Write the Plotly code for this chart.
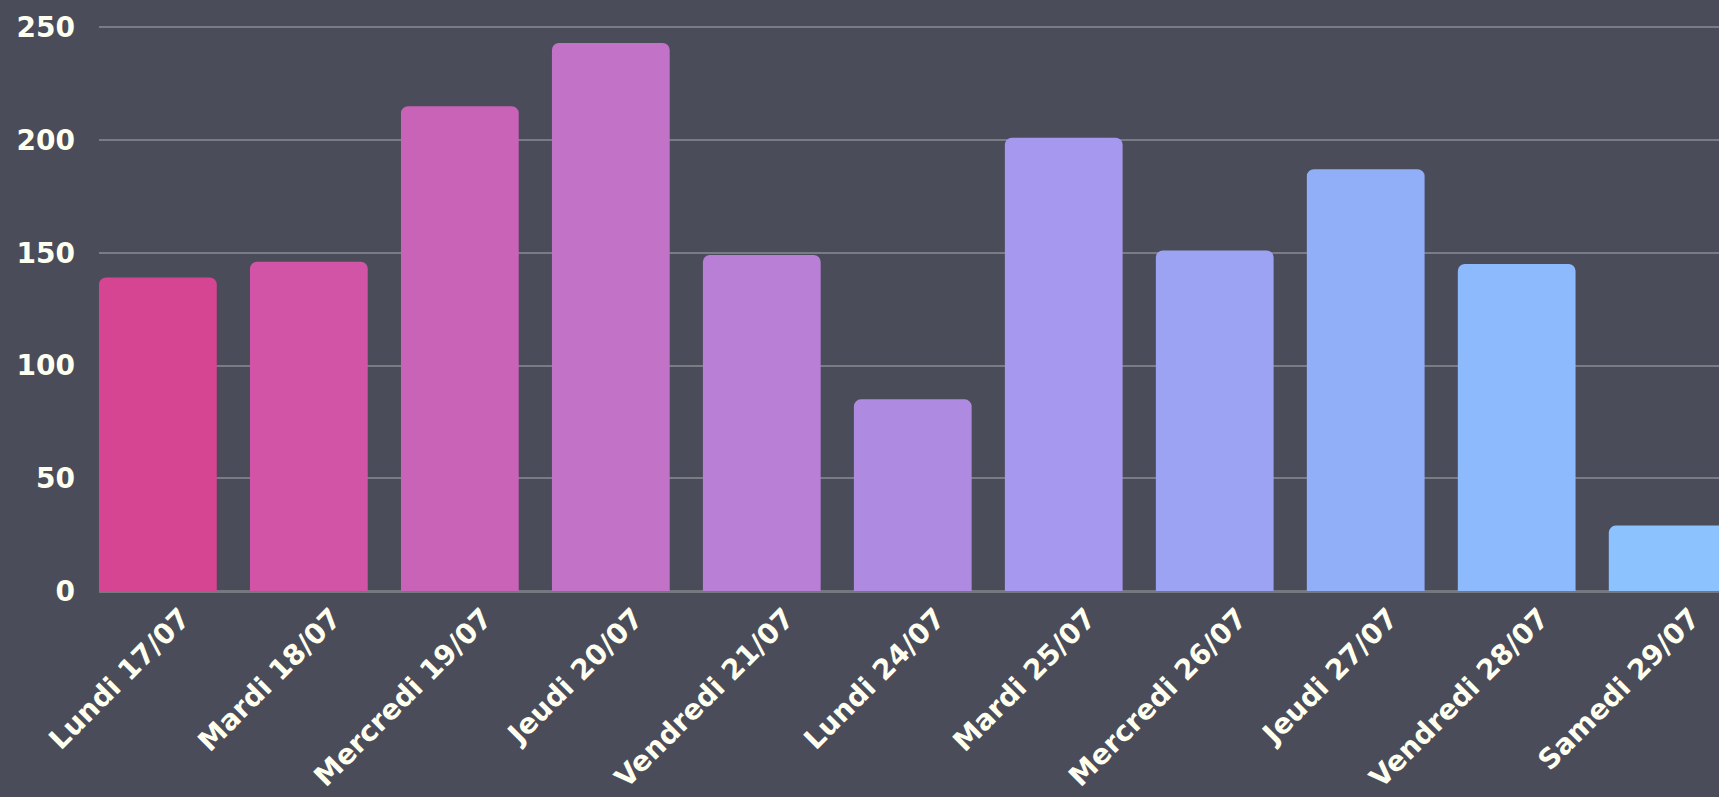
import plotly.graph_objects as go

categories = ["Lundi 17/07", "Mardi 18/07", "Mercredi 19/07", "Jeudi 20/07",
              "Vendredi 21/07", "Lundi 24/07", "Mardi 25/07", "Mercredi 26/07",
              "Jeudi 27/07", "Vendredi 28/07", "Samedi 29/07"]
values = [139, 146, 215, 243, 149, 85, 201, 151, 187, 145, 29]
bar_colors = ["#D64591", "#D154A6", "#C963B8", "#C273C8", "#B97FD6", "#AE8BE0",
              "#A598EE", "#9BA3F2", "#91AFF8", "#8DB9FD", "#8CC2FD"]
y_ticks = [0, 50, 100, 150, 200, 250]

bg = "#4A4C5A"
grid = "#7A7B84"
txt = "#FFFFF0"
font_family = "DejaVu Sans"

fig = go.Figure(go.Bar(
    x=categories, y=values,
    marker=dict(color=bar_colors, line=dict(width=0), cornerradius=7),
    width=0.78,
))

fig.update_layout(
    width=1719, height=797,
    paper_bgcolor=bg, plot_bgcolor=bg,
    margin=dict(l=99, r=0, t=25, b=206),
    showlegend=False,
    font=dict(family=font_family, color=txt, size=28),
)
fig.update_xaxes(
    range=[-0.39, 10.34], tickangle=-45, showgrid=False,
    showline=False, zeroline=False,
    ticklabelshift=24, ticklabelstandoff=4,
    tickfont=dict(family=font_family, size=28, color=txt, weight="bold"),
)
fig.update_yaxes(
    range=[0, 251], tickvals=y_ticks, showgrid=True, gridcolor=grid, gridwidth=2,
    zeroline=True, zerolinecolor="#76777F", zerolinewidth=3, showline=False,
    ticklabelstandoff=23,
    tickfont=dict(family=font_family, size=28, color=txt, weight="bold"),
)

fig.write_html("out.html", config={"displayModeBar": False},
               post_script="document.body.style.margin='0';")
